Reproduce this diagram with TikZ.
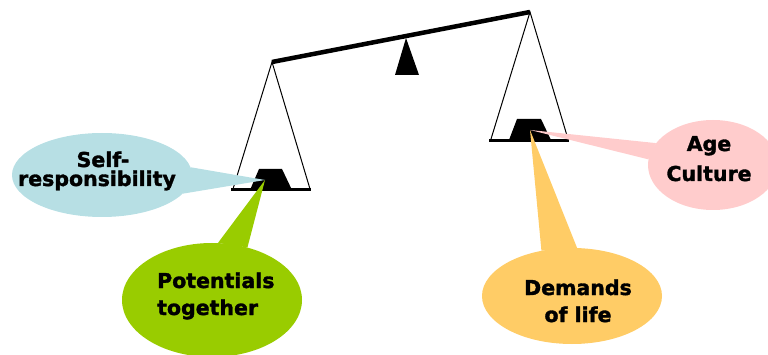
\documentclass[tikz,border=0pt]{standalone}
\usepackage{fontspec}
\setmainfont{DejaVu Sans}
\newfontfamily\lblfont{DejaVu Sans Bold}[FakeBold=1.6]
\usetikzlibrary{shapes.geometric}
\definecolor{cblue}{HTML}{B7DFE4}
\definecolor{cgreen}{HTML}{99CC00}
\definecolor{cpink}{HTML}{FFCCCC}
\definecolor{corange}{HTML}{FFCC66}
\tikzset{
  bubble/.style={ellipse, draw=none, inner sep=0pt},
  lbl/.style={inner sep=0pt, font=\fontsize{20.5}{24}\lblfont},
  panline/.style={line width=1pt},
  panbase/.style={line width=3pt},
}
\begin{document}
\begin{tikzpicture}[x=1pt,y=-1pt]
\useasboundingbox (0,0) rectangle (768,355);
% scale
\coordinate (bl) at (272,62);
\coordinate (br) at (530,12);
\draw[line width=4.5pt] (bl) -- (br);
\fill (406,38) -- (419,75) -- (395,75) -- cycle;
% left pan
\draw[panline] (233,189) -- (bl) -- (310,189);
\fill (259,169) -- (282,169) -- (292,190) -- (250,190) -- cycle;
\draw[panbase] (231,190) -- (311,190);
% right pan
\draw[panline] (491,139) -- (br) -- (568,139);
\fill (517,119) -- (541,119) -- (551,140) -- (509,140) -- cycle;
\draw[panbase] (489,140.5) -- (569,140.5);
% tips
\coordinate (tipL) at (265,180);
\coordinate (tipR) at (530,130);
% self-responsibility
\node[bubble, fill=cblue, minimum width=180, minimum height=84] (selfE) at (102,175) {};
\fill[cblue] (selfE.5) -- (tipL) -- (selfE.-13) -- cycle;
\node[lbl, anchor=base] (selfA) at (103,167) {Self-};
\node[lbl, anchor=base] (selfB) at (97,186) {responsibility};
% potentials together
\node[bubble, fill=cgreen, minimum width=180, minimum height=114] (potE) at (212,300) {};
\fill[cgreen] (potE.84) -- (tipL) -- (potE.56) -- cycle;
\node[lbl, anchor=base west] (potA) at (157,288) {Potentials};
\node[lbl, anchor=base west] (potB) at (157,315) {together};
% age culture
\node[bubble, fill=cpink, minimum width=130, minimum height=90] (ageE) at (713,165) {};
\fill[cpink] (ageE.159) -- (tipR) -- (ageE.175) -- cycle;
\node[lbl, anchor=base] (ageA) at (709,151) {Age};
\node[lbl, anchor=base] (ageB) at (709,181) {Culture};
% demands of life
\node[bubble, fill=corange, minimum width=180, minimum height=96] (demE) at (572,296) {};
\fill[corange] (demE.124) -- (tipR) -- (demE.84) -- cycle;
\node[lbl, anchor=base] (demA) at (578,295) {Demands};
\node[lbl, anchor=base] (demB) at (578,322) {of life};
\end{tikzpicture}
\end{document}
